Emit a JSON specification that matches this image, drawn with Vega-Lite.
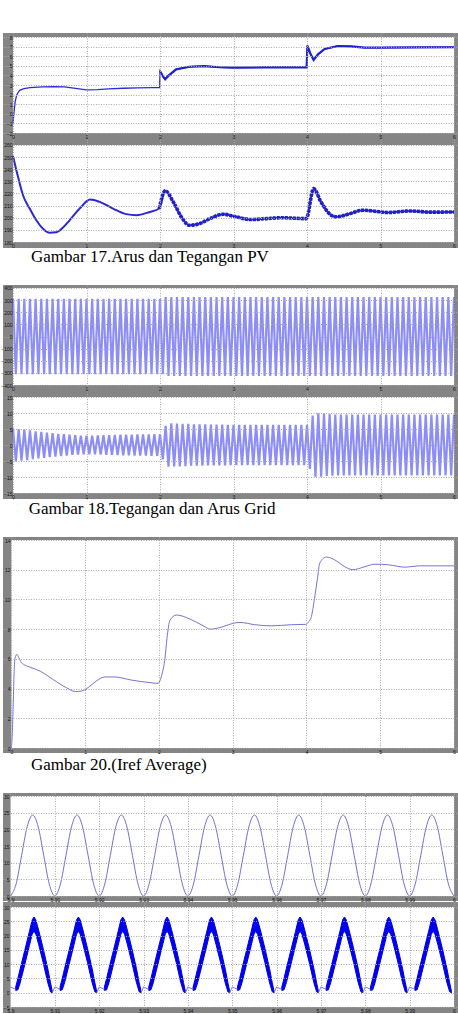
{
"$schema": "https://vega.github.io/schema/vega-lite/v6.json",
"background": "white",
"padding": {"left": 0, "top": 33, "right": 0, "bottom": 0},
"spacing": 20,
"config": {
 "view": {"stroke": null},
 "rect": {"color": "#858585"},
 "axis": {"domain": false, "ticks": false, "grid": true, "gridColor": "#a8a8a8", "gridDash": [1, 1.5], "gridWidth": 1, "gridOpacity": 1, "labelFont": "Liberation Sans", "labelFontSize": 5, "labelColor": "#101010", "labelPadding": 1, "labelFlush": false, "labelOverlap": false, "zindex": 1}
},
"datasets": {
 "one": [{}],
 "pvI": [{"t":0,"y":-1.0},{"t":0.015,"y":0.3},{"t":0.03,"y":1.3},{"t":0.05,"y":1.96},{"t":0.09,"y":2.45},{"t":0.15,"y":2.62},{"t":0.23,"y":2.72},{"t":0.4,"y":2.8},{"t":0.55,"y":2.83},{"t":0.7,"y":2.8},{"t":0.85,"y":2.65},{"t":1.0,"y":2.5},{"t":1.15,"y":2.52},{"t":1.3,"y":2.6},{"t":1.5,"y":2.66},{"t":1.7,"y":2.7},{"t":1.9,"y":2.72},{"t":1.995,"y":2.72},{"t":2.0,"y":4.46},{"t":2.04,"y":3.9},{"t":2.07,"y":3.6},{"t":2.12,"y":4.0},{"t":2.22,"y":4.63},{"t":2.4,"y":4.9},{"t":2.6,"y":4.96},{"t":2.81,"y":4.85},{"t":3.0,"y":4.81},{"t":3.4,"y":4.83},{"t":3.7,"y":4.83},{"t":3.995,"y":4.83},{"t":4.005,"y":7.1},{"t":4.05,"y":6.2},{"t":4.09,"y":5.6},{"t":4.15,"y":6.2},{"t":4.24,"y":6.75},{"t":4.42,"y":7.06},{"t":4.6,"y":7.02},{"t":4.78,"y":6.9},{"t":5.0,"y":6.9},{"t":5.5,"y":6.92},{"t":6.0,"y":6.93}],
 "pvV": [{"t":0,"y":251},{"t":0.068,"y":233.8},{"t":0.136,"y":218.6},{"t":0.227,"y":207.6},{"t":0.317,"y":197.9},{"t":0.408,"y":191},{"t":0.499,"y":187.6},{"t":0.59,"y":188},{"t":0.68,"y":191.9},{"t":0.77,"y":197.9},{"t":0.907,"y":207.6},{"t":1.05,"y":215},{"t":1.18,"y":213.1},{"t":1.36,"y":207.6},{"t":1.54,"y":203},{"t":1.68,"y":202.1},{"t":1.86,"y":204.8},{"t":1.99,"y":207.6},{"t":2.07,"y":222.2},{"t":2.18,"y":213.1},{"t":2.29,"y":200.7},{"t":2.4,"y":193.8},{"t":2.54,"y":195.2},{"t":2.68,"y":199.3},{"t":2.86,"y":202.9},{"t":3.0,"y":201.3},{"t":3.24,"y":198.5},{"t":3.45,"y":199.3},{"t":3.65,"y":200},{"t":3.99,"y":199.3},{"t":4.09,"y":224},{"t":4.19,"y":213},{"t":4.33,"y":202},{"t":4.4,"y":200.7},{"t":4.56,"y":202.9},{"t":4.76,"y":206.2},{"t":4.92,"y":205.4},{"t":5.1,"y":204.3},{"t":5.4,"y":205.6},{"t":5.68,"y":204.6},{"t":6.0,"y":204.8}],
 "grid": [
{"t":0,"v":310,"i":5.2},{"t":0.0385,"v":-310,"i":-5.1},{"t":0.0769,"v":310,"i":5.0},{"t":0.1154,"v":-310,"i":-4.9},{"t":0.1538,"v":310,"i":4.8},{"t":0.1923,"v":-310,"i":-4.7},{"t":0.2308,"v":310,"i":4.6},{"t":0.2692,"v":-310,"i":-4.4},{"t":0.3077,"v":310,"i":4.3},{"t":0.3462,"v":-310,"i":-4.2},{"t":0.3846,"v":310,"i":4.1},{"t":0.4231,"v":-310,"i":-4.0},{"t":0.4615,"v":310,"i":3.9},{"t":0.5,"v":-310,"i":-3.8},{"t":0.5385,"v":310,"i":3.7},{"t":0.5769,"v":-310,"i":-3.6},{"t":0.6154,"v":310,"i":3.5},{"t":0.6538,"v":-310,"i":-3.45},{"t":0.6923,"v":310,"i":3.4},{"t":0.7308,"v":-310,"i":-3.3},{"t":0.7692,"v":310,"i":3.2},{"t":0.8077,"v":-310,"i":-3.1},{"t":0.8462,"v":310,"i":3.05},{"t":0.8846,"v":-310,"i":-3.0},{"t":0.9231,"v":310,"i":2.95},{"t":0.9615,"v":-310,"i":-2.9},
{"t":1,"v":310,"i":2.9},{"t":1.0385,"v":-310,"i":-2.9},{"t":1.0769,"v":310,"i":2.95},{"t":1.1154,"v":-310,"i":-2.95},{"t":1.1538,"v":310,"i":3.0},{"t":1.1923,"v":-310,"i":-3.0},{"t":1.2308,"v":310,"i":3.05},{"t":1.2692,"v":-310,"i":-3.05},{"t":1.3077,"v":310,"i":3.1},{"t":1.3462,"v":-310,"i":-3.1},{"t":1.3846,"v":310,"i":3.15},{"t":1.4231,"v":-310,"i":-3.15},{"t":1.4615,"v":310,"i":3.2},{"t":1.5,"v":-310,"i":-3.2},{"t":1.5385,"v":310,"i":3.2},{"t":1.5769,"v":-310,"i":-3.25},{"t":1.6154,"v":310,"i":3.25},{"t":1.6538,"v":-310,"i":-3.3},{"t":1.6923,"v":310,"i":3.3},{"t":1.7308,"v":-310,"i":-3.3},{"t":1.7692,"v":310,"i":3.35},{"t":1.8077,"v":-310,"i":-3.35},{"t":1.8462,"v":310,"i":3.35},{"t":1.8846,"v":-310,"i":-3.4},{"t":1.9231,"v":310,"i":3.4},{"t":1.9615,"v":-310,"i":-3.4},
{"t":2,"v":310,"i":3.4},{"t":2.0385,"v":-310,"i":-4.5},{"t":2.0769,"v":325,"i":6.0},{"t":2.1154,"v":-325,"i":-6.8},{"t":2.1538,"v":325,"i":6.8},{"t":2.1923,"v":-325,"i":-6.7},{"t":2.2308,"v":325,"i":6.7},{"t":2.2692,"v":-325,"i":-6.7},{"t":2.3077,"v":325,"i":6.6},{"t":2.3462,"v":-325,"i":-6.6},{"t":2.3846,"v":325,"i":6.6},{"t":2.4231,"v":-325,"i":-6.5},{"t":2.4615,"v":325,"i":6.5},{"t":2.5,"v":-325,"i":-6.5},{"t":2.5385,"v":325,"i":6.5},{"t":2.5769,"v":-325,"i":-6.45},{"t":2.6154,"v":325,"i":6.45},{"t":2.6538,"v":-325,"i":-6.4},{"t":2.6923,"v":325,"i":6.4},{"t":2.7308,"v":-325,"i":-6.4},{"t":2.7692,"v":325,"i":6.4},{"t":2.8077,"v":-325,"i":-6.35},{"t":2.8462,"v":325,"i":6.35},{"t":2.8846,"v":-325,"i":-6.35},{"t":2.9231,"v":325,"i":6.3},{"t":2.9615,"v":-325,"i":-6.3},
{"t":3,"v":325,"i":6.3},{"t":3.0385,"v":-325,"i":-6.3},{"t":3.0769,"v":325,"i":6.3},{"t":3.1154,"v":-325,"i":-6.3},{"t":3.1538,"v":325,"i":6.3},{"t":3.1923,"v":-325,"i":-6.3},{"t":3.2308,"v":325,"i":6.3},{"t":3.2692,"v":-325,"i":-6.3},{"t":3.3077,"v":325,"i":6.3},{"t":3.3462,"v":-325,"i":-6.3},{"t":3.3846,"v":325,"i":6.3},{"t":3.4231,"v":-325,"i":-6.3},{"t":3.4615,"v":325,"i":6.3},{"t":3.5,"v":-325,"i":-6.3},{"t":3.5385,"v":325,"i":6.3},{"t":3.5769,"v":-325,"i":-6.3},{"t":3.6154,"v":325,"i":6.3},{"t":3.6538,"v":-325,"i":-6.3},{"t":3.6923,"v":325,"i":6.3},{"t":3.7308,"v":-325,"i":-6.3},{"t":3.7692,"v":325,"i":6.3},{"t":3.8077,"v":-325,"i":-6.3},{"t":3.8462,"v":325,"i":6.3},{"t":3.8846,"v":-325,"i":-6.3},{"t":3.9231,"v":325,"i":6.3},{"t":3.9615,"v":-325,"i":-6.3},
{"t":4,"v":325,"i":6.3},{"t":4.0385,"v":-325,"i":-7.5},{"t":4.0769,"v":325,"i":9.2},{"t":4.1154,"v":-325,"i":-10.0},{"t":4.1538,"v":325,"i":10.0},{"t":4.1923,"v":-325,"i":-9.9},{"t":4.2308,"v":325,"i":9.8},{"t":4.2692,"v":-325,"i":-9.7},{"t":4.3077,"v":325,"i":9.7},{"t":4.3462,"v":-325,"i":-9.6},{"t":4.3846,"v":325,"i":9.5},{"t":4.4231,"v":-325,"i":-9.5},{"t":4.4615,"v":325,"i":9.5},{"t":4.5,"v":-325,"i":-9.5},{"t":4.5385,"v":325,"i":9.5},{"t":4.5769,"v":-325,"i":-9.5},{"t":4.6154,"v":325,"i":9.5},{"t":4.6538,"v":-325,"i":-9.5},{"t":4.6923,"v":325,"i":9.5},{"t":4.7308,"v":-325,"i":-9.5},{"t":4.7692,"v":325,"i":9.5},{"t":4.8077,"v":-325,"i":-9.5},{"t":4.8462,"v":325,"i":9.5},{"t":4.8846,"v":-325,"i":-9.5},{"t":4.9231,"v":325,"i":9.5},{"t":4.9615,"v":-325,"i":-9.5},
{"t":5,"v":325,"i":9.5},{"t":5.0385,"v":-325,"i":-9.5},{"t":5.0769,"v":325,"i":9.5},{"t":5.1154,"v":-325,"i":-9.5},{"t":5.1538,"v":325,"i":9.5},{"t":5.1923,"v":-325,"i":-9.5},{"t":5.2308,"v":325,"i":9.5},{"t":5.2692,"v":-325,"i":-9.5},{"t":5.3077,"v":325,"i":9.5},{"t":5.3462,"v":-325,"i":-9.5},{"t":5.3846,"v":325,"i":9.5},{"t":5.4231,"v":-325,"i":-9.5},{"t":5.4615,"v":325,"i":9.5},{"t":5.5,"v":-325,"i":-9.5},{"t":5.5385,"v":325,"i":9.5},{"t":5.5769,"v":-325,"i":-9.5},{"t":5.6154,"v":325,"i":9.5},{"t":5.6538,"v":-325,"i":-9.5},{"t":5.6923,"v":325,"i":9.5},{"t":5.7308,"v":-325,"i":-9.5},{"t":5.7692,"v":325,"i":9.5},{"t":5.8077,"v":-325,"i":-9.5},{"t":5.8462,"v":325,"i":9.5},{"t":5.8846,"v":-325,"i":-9.5},{"t":5.9231,"v":325,"i":9.5},{"t":5.9615,"v":-325,"i":-9.5},
{"t":6,"v":325,"i":9.5}],
 "iref": [{"t":0,"y":0},{"t":0.012,"y":0.8},{"t":0.023,"y":2.5},{"t":0.035,"y":4.6},{"t":0.045,"y":5.8},{"t":0.06,"y":6.2},{"t":0.076,"y":6.3},{"t":0.1,"y":6.1},{"t":0.13,"y":5.8},{"t":0.17,"y":5.62},{"t":0.25,"y":5.45},{"t":0.4,"y":5.15},{"t":0.57,"y":4.6},{"t":0.75,"y":4.05},{"t":0.87,"y":3.8},{"t":0.95,"y":3.83},{"t":1.05,"y":4.1},{"t":1.15,"y":4.5},{"t":1.27,"y":4.78},{"t":1.4,"y":4.78},{"t":1.63,"y":4.57},{"t":1.88,"y":4.4},{"t":1.99,"y":4.35},{"t":2.02,"y":4.6},{"t":2.05,"y":5.13},{"t":2.08,"y":5.92},{"t":2.11,"y":7.38},{"t":2.15,"y":8.6},{"t":2.24,"y":8.95},{"t":2.42,"y":8.68},{"t":2.6,"y":8.23},{"t":2.7,"y":8.0},{"t":2.87,"y":8.17},{"t":3.01,"y":8.4},{"t":3.1,"y":8.45},{"t":3.3,"y":8.3},{"t":3.52,"y":8.22},{"t":3.8,"y":8.3},{"t":3.99,"y":8.32},{"t":4.03,"y":8.5},{"t":4.067,"y":8.84},{"t":4.11,"y":10.08},{"t":4.15,"y":11.43},{"t":4.18,"y":12.44},{"t":4.27,"y":12.85},{"t":4.38,"y":12.67},{"t":4.52,"y":12.2},{"t":4.63,"y":12.0},{"t":4.79,"y":12.2},{"t":4.93,"y":12.37},{"t":5.11,"y":12.33},{"t":5.34,"y":12.17},{"t":5.52,"y":12.26},{"t":6.0,"y":12.26}],
 "sine": [
{"t":5.9,"y":0},{"t":5.90125,"y":3.56},{"t":5.9025,"y":12.15},{"t":5.90375,"y":20.74},{"t":5.905,"y":24.3},{"t":5.90625,"y":20.74},{"t":5.9075,"y":12.15},{"t":5.90875,"y":3.56},
{"t":5.91,"y":0},{"t":5.91125,"y":3.56},{"t":5.9125,"y":12.15},{"t":5.91375,"y":20.74},{"t":5.915,"y":24.3},{"t":5.91625,"y":20.74},{"t":5.9175,"y":12.15},{"t":5.91875,"y":3.56},
{"t":5.92,"y":0},{"t":5.92125,"y":3.56},{"t":5.9225,"y":12.15},{"t":5.92375,"y":20.74},{"t":5.925,"y":24.3},{"t":5.92625,"y":20.74},{"t":5.9275,"y":12.15},{"t":5.92875,"y":3.56},
{"t":5.93,"y":0},{"t":5.93125,"y":3.56},{"t":5.9325,"y":12.15},{"t":5.93375,"y":20.74},{"t":5.935,"y":24.3},{"t":5.93625,"y":20.74},{"t":5.9375,"y":12.15},{"t":5.93875,"y":3.56},
{"t":5.94,"y":0},{"t":5.94125,"y":3.56},{"t":5.9425,"y":12.15},{"t":5.94375,"y":20.74},{"t":5.945,"y":24.3},{"t":5.94625,"y":20.74},{"t":5.9475,"y":12.15},{"t":5.94875,"y":3.56},
{"t":5.95,"y":0},{"t":5.95125,"y":3.56},{"t":5.9525,"y":12.15},{"t":5.95375,"y":20.74},{"t":5.955,"y":24.3},{"t":5.95625,"y":20.74},{"t":5.9575,"y":12.15},{"t":5.95875,"y":3.56},
{"t":5.96,"y":0},{"t":5.96125,"y":3.56},{"t":5.9625,"y":12.15},{"t":5.96375,"y":20.74},{"t":5.965,"y":24.3},{"t":5.96625,"y":20.74},{"t":5.9675,"y":12.15},{"t":5.96875,"y":3.56},
{"t":5.97,"y":0},{"t":5.97125,"y":3.56},{"t":5.9725,"y":12.15},{"t":5.97375,"y":20.74},{"t":5.975,"y":24.3},{"t":5.97625,"y":20.74},{"t":5.9775,"y":12.15},{"t":5.97875,"y":3.56},
{"t":5.98,"y":0},{"t":5.98125,"y":3.56},{"t":5.9825,"y":12.15},{"t":5.98375,"y":20.74},{"t":5.985,"y":24.3},{"t":5.98625,"y":20.74},{"t":5.9875,"y":12.15},{"t":5.98875,"y":3.56},
{"t":5.99,"y":0},{"t":5.99125,"y":3.56},{"t":5.9925,"y":12.15},{"t":5.99375,"y":20.74},{"t":5.995,"y":24.3},{"t":5.99625,"y":20.74},{"t":5.9975,"y":12.15},{"t":5.99875,"y":3.56},
{"t":6.0,"y":0}],
 "band": [
{"t":5.90117,"lo":0.8,"hi":2,"c":0},{"t":5.90167,"lo":1,"hi":5,"c":0},{"t":5.9022,"lo":3.5,"hi":8.5,"c":0},{"t":5.90324,"lo":10,"hi":15,"c":0},{"t":5.90427,"lo":16.5,"hi":21.5,"c":0},{"t":5.90489,"lo":20.5,"hi":25.5,"c":0},{"t":5.9053,"lo":21.5,"hi":26.5,"c":0},{"t":5.90571,"lo":20.5,"hi":25.5,"c":0},{"t":5.90633,"lo":17,"hi":22,"c":0},{"t":5.90737,"lo":10.5,"hi":15.5,"c":0},{"t":5.9084,"lo":3.5,"hi":8.5,"c":0},{"t":5.90902,"lo":0.3,"hi":3.5,"c":0},{"t":5.90943,"lo":0,"hi":0.5,"c":0},
{"t":5.91117,"lo":0.8,"hi":2,"c":1},{"t":5.91167,"lo":1,"hi":5,"c":1},{"t":5.9122,"lo":3.5,"hi":8.5,"c":1},{"t":5.91324,"lo":10,"hi":15,"c":1},{"t":5.91427,"lo":16.5,"hi":21.5,"c":1},{"t":5.91489,"lo":20.5,"hi":25.5,"c":1},{"t":5.9153,"lo":21.5,"hi":26.5,"c":1},{"t":5.91571,"lo":20.5,"hi":25.5,"c":1},{"t":5.91633,"lo":17,"hi":22,"c":1},{"t":5.91737,"lo":10.5,"hi":15.5,"c":1},{"t":5.9184,"lo":3.5,"hi":8.5,"c":1},{"t":5.91902,"lo":0.3,"hi":3.5,"c":1},{"t":5.91943,"lo":0,"hi":0.5,"c":1},
{"t":5.92117,"lo":0.8,"hi":2,"c":2},{"t":5.92167,"lo":1,"hi":5,"c":2},{"t":5.9222,"lo":3.5,"hi":8.5,"c":2},{"t":5.92324,"lo":10,"hi":15,"c":2},{"t":5.92427,"lo":16.5,"hi":21.5,"c":2},{"t":5.92489,"lo":20.5,"hi":25.5,"c":2},{"t":5.9253,"lo":21.5,"hi":26.5,"c":2},{"t":5.92571,"lo":20.5,"hi":25.5,"c":2},{"t":5.92633,"lo":17,"hi":22,"c":2},{"t":5.92737,"lo":10.5,"hi":15.5,"c":2},{"t":5.9284,"lo":3.5,"hi":8.5,"c":2},{"t":5.92902,"lo":0.3,"hi":3.5,"c":2},{"t":5.92943,"lo":0,"hi":0.5,"c":2},
{"t":5.93117,"lo":0.8,"hi":2,"c":3},{"t":5.93167,"lo":1,"hi":5,"c":3},{"t":5.9322,"lo":3.5,"hi":8.5,"c":3},{"t":5.93324,"lo":10,"hi":15,"c":3},{"t":5.93427,"lo":16.5,"hi":21.5,"c":3},{"t":5.93489,"lo":20.5,"hi":25.5,"c":3},{"t":5.9353,"lo":21.5,"hi":26.5,"c":3},{"t":5.93571,"lo":20.5,"hi":25.5,"c":3},{"t":5.93633,"lo":17,"hi":22,"c":3},{"t":5.93737,"lo":10.5,"hi":15.5,"c":3},{"t":5.9384,"lo":3.5,"hi":8.5,"c":3},{"t":5.93902,"lo":0.3,"hi":3.5,"c":3},{"t":5.93943,"lo":0,"hi":0.5,"c":3},
{"t":5.94117,"lo":0.8,"hi":2,"c":4},{"t":5.94167,"lo":1,"hi":5,"c":4},{"t":5.9422,"lo":3.5,"hi":8.5,"c":4},{"t":5.94324,"lo":10,"hi":15,"c":4},{"t":5.94427,"lo":16.5,"hi":21.5,"c":4},{"t":5.94489,"lo":20.5,"hi":25.5,"c":4},{"t":5.9453,"lo":21.5,"hi":26.5,"c":4},{"t":5.94571,"lo":20.5,"hi":25.5,"c":4},{"t":5.94633,"lo":17,"hi":22,"c":4},{"t":5.94737,"lo":10.5,"hi":15.5,"c":4},{"t":5.9484,"lo":3.5,"hi":8.5,"c":4},{"t":5.94902,"lo":0.3,"hi":3.5,"c":4},{"t":5.94943,"lo":0,"hi":0.5,"c":4},
{"t":5.95117,"lo":0.8,"hi":2,"c":5},{"t":5.95167,"lo":1,"hi":5,"c":5},{"t":5.9522,"lo":3.5,"hi":8.5,"c":5},{"t":5.95324,"lo":10,"hi":15,"c":5},{"t":5.95427,"lo":16.5,"hi":21.5,"c":5},{"t":5.95489,"lo":20.5,"hi":25.5,"c":5},{"t":5.9553,"lo":21.5,"hi":26.5,"c":5},{"t":5.95571,"lo":20.5,"hi":25.5,"c":5},{"t":5.95633,"lo":17,"hi":22,"c":5},{"t":5.95737,"lo":10.5,"hi":15.5,"c":5},{"t":5.9584,"lo":3.5,"hi":8.5,"c":5},{"t":5.95902,"lo":0.3,"hi":3.5,"c":5},{"t":5.95943,"lo":0,"hi":0.5,"c":5},
{"t":5.96117,"lo":0.8,"hi":2,"c":6},{"t":5.96167,"lo":1,"hi":5,"c":6},{"t":5.9622,"lo":3.5,"hi":8.5,"c":6},{"t":5.96324,"lo":10,"hi":15,"c":6},{"t":5.96427,"lo":16.5,"hi":21.5,"c":6},{"t":5.96489,"lo":20.5,"hi":25.5,"c":6},{"t":5.9653,"lo":21.5,"hi":26.5,"c":6},{"t":5.96571,"lo":20.5,"hi":25.5,"c":6},{"t":5.96633,"lo":17,"hi":22,"c":6},{"t":5.96737,"lo":10.5,"hi":15.5,"c":6},{"t":5.9684,"lo":3.5,"hi":8.5,"c":6},{"t":5.96902,"lo":0.3,"hi":3.5,"c":6},{"t":5.96943,"lo":0,"hi":0.5,"c":6},
{"t":5.97117,"lo":0.8,"hi":2,"c":7},{"t":5.97167,"lo":1,"hi":5,"c":7},{"t":5.9722,"lo":3.5,"hi":8.5,"c":7},{"t":5.97324,"lo":10,"hi":15,"c":7},{"t":5.97427,"lo":16.5,"hi":21.5,"c":7},{"t":5.97489,"lo":20.5,"hi":25.5,"c":7},{"t":5.9753,"lo":21.5,"hi":26.5,"c":7},{"t":5.97571,"lo":20.5,"hi":25.5,"c":7},{"t":5.97633,"lo":17,"hi":22,"c":7},{"t":5.97737,"lo":10.5,"hi":15.5,"c":7},{"t":5.9784,"lo":3.5,"hi":8.5,"c":7},{"t":5.97902,"lo":0.3,"hi":3.5,"c":7},{"t":5.97943,"lo":0,"hi":0.5,"c":7},
{"t":5.98117,"lo":0.8,"hi":2,"c":8},{"t":5.98167,"lo":1,"hi":5,"c":8},{"t":5.9822,"lo":3.5,"hi":8.5,"c":8},{"t":5.98324,"lo":10,"hi":15,"c":8},{"t":5.98427,"lo":16.5,"hi":21.5,"c":8},{"t":5.98489,"lo":20.5,"hi":25.5,"c":8},{"t":5.9853,"lo":21.5,"hi":26.5,"c":8},{"t":5.98571,"lo":20.5,"hi":25.5,"c":8},{"t":5.98633,"lo":17,"hi":22,"c":8},{"t":5.98737,"lo":10.5,"hi":15.5,"c":8},{"t":5.9884,"lo":3.5,"hi":8.5,"c":8},{"t":5.98902,"lo":0.3,"hi":3.5,"c":8},{"t":5.98943,"lo":0,"hi":0.5,"c":8},
{"t":5.99117,"lo":0.8,"hi":2,"c":9},{"t":5.99167,"lo":1,"hi":5,"c":9},{"t":5.9922,"lo":3.5,"hi":8.5,"c":9},{"t":5.99324,"lo":10,"hi":15,"c":9},{"t":5.99427,"lo":16.5,"hi":21.5,"c":9},{"t":5.99489,"lo":20.5,"hi":25.5,"c":9},{"t":5.9953,"lo":21.5,"hi":26.5,"c":9},{"t":5.99571,"lo":20.5,"hi":25.5,"c":9},{"t":5.99633,"lo":17,"hi":22,"c":9},{"t":5.99737,"lo":10.5,"hi":15.5,"c":9},{"t":5.9984,"lo":3.5,"hi":8.5,"c":9},{"t":5.99902,"lo":0.3,"hi":3.5,"c":9},{"t":5.99943,"lo":0,"hi":0.5,"c":9}],
 "zig": [
{"t":5.9,"y":2,"g":0},{"t":5.90117,"y":1.2,"g":0},
{"t":5.90943,"y":0,"g":1},{"t":5.91,"y":2,"g":1},{"t":5.91117,"y":1.2,"g":1},
{"t":5.91943,"y":0,"g":2},{"t":5.92,"y":2,"g":2},{"t":5.92117,"y":1.2,"g":2},
{"t":5.92943,"y":0,"g":3},{"t":5.93,"y":2,"g":3},{"t":5.93117,"y":1.2,"g":3},
{"t":5.93943,"y":0,"g":4},{"t":5.94,"y":2,"g":4},{"t":5.94117,"y":1.2,"g":4},
{"t":5.94943,"y":0,"g":5},{"t":5.95,"y":2,"g":5},{"t":5.95117,"y":1.2,"g":5},
{"t":5.95943,"y":0,"g":6},{"t":5.96,"y":2,"g":6},{"t":5.96117,"y":1.2,"g":6},
{"t":5.96943,"y":0,"g":7},{"t":5.97,"y":2,"g":7},{"t":5.97117,"y":1.2,"g":7},
{"t":5.97943,"y":0,"g":8},{"t":5.98,"y":2,"g":8},{"t":5.98117,"y":1.2,"g":8},
{"t":5.98943,"y":0,"g":9},{"t":5.99,"y":2,"g":9},{"t":5.99117,"y":1.2,"g":9}]
},
"vconcat": [
 {
  "spacing": 0,
  "title": {"text": "Gambar 17.Arus dan Tegangan PV", "orient": "bottom", "anchor": "start", "dx": 28, "offset": 1, "font": "Liberation Serif", "fontSize": 17, "fontWeight": "normal", "color": "black"},
  "vconcat": [
   {
    "width": 455, "height": 106,
    "view": {"fill": "white", "stroke": null},
    "encoding": {
     "x": {"type": "quantitative", "scale": {"domain": [-0.1361, 6.0544], "nice": false, "zero": false}, "axis": {"values": [0,1,2,3,4,5,6], "format": ".6~g", "offset": -6, "title": null, "grid": true, "labelOverlap": false, "zindex": 1}},
     "y": {"type": "quantitative", "scale": {"domain": [-2.625, 8.4167], "nice": false, "zero": false}, "axis": {"values": [-2,-1,0,1,2,3,4,5,6,7,8], "format": ".6~g", "offset": -10, "title": null, "grid": true, "labelOverlap": false, "zindex": 1}}
    },
    "layer": [
     {"data": {"name": "one"}, "mark": "rect", "encoding": {"x": {"datum": -0.1361}, "x2": {"datum": 0}, "y": {"datum": -2.625}, "y2": {"datum": 8.4167}}},
     {"data": {"name": "one"}, "mark": "rect", "encoding": {"x": {"datum": 6}, "x2": {"datum": 6.0544}, "y": {"datum": -2.625}, "y2": {"datum": 8.4167}}},
     {"data": {"name": "one"}, "mark": "rect", "encoding": {"x": {"datum": -0.1361}, "x2": {"datum": 6.0544}, "y": {"datum": 8}, "y2": {"datum": 8.4167}}},
     {"data": {"name": "one"}, "mark": "rect", "encoding": {"x": {"datum": -0.1361}, "x2": {"datum": 6.0544}, "y": {"datum": -2.625}, "y2": {"datum": -2}}},
     {"data": {"name": "pvI"}, "mark": {"type": "line", "color": "#2b2bd6", "strokeWidth": 1.3},
      "encoding": {"x": {"field": "t"}, "y": {"field": "y"}}},
     {"data": {"name": "pvI"}, "transform": [{"filter": "datum.t >= 2"}], "mark": {"type": "line", "color": "#2020d0", "strokeWidth": 2.2},
      "encoding": {"x": {"field": "t"}, "y": {"field": "y"}}}
    ]
   },
   {
    "width": 455, "height": 109,
    "view": {"fill": "white", "stroke": null},
    "encoding": {
     "x": {"type": "quantitative", "scale": {"domain": [-0.1361, 6.0544], "nice": false, "zero": false}, "axis": {"values": [0,1,2,3,4,5,6], "format": ".6~g", "offset": -6, "title": null, "grid": true, "labelOverlap": false, "zindex": 1}},
     "y": {"type": "quantitative", "scale": {"domain": [175.052, 264.948], "nice": false, "zero": false}, "axis": {"values": [180,190,200,210,220,230,240,250,260], "format": ".6~g", "offset": -10, "title": null, "grid": true, "labelOverlap": false, "zindex": 1}}
    },
    "layer": [
     {"data": {"name": "one"}, "mark": "rect", "encoding": {"x": {"datum": -0.1361}, "x2": {"datum": 0}, "y": {"datum": 175.052}, "y2": {"datum": 264.948}}},
     {"data": {"name": "one"}, "mark": "rect", "encoding": {"x": {"datum": 6}, "x2": {"datum": 6.0544}, "y": {"datum": 175.052}, "y2": {"datum": 264.948}}},
     {"data": {"name": "one"}, "mark": "rect", "encoding": {"x": {"datum": -0.1361}, "x2": {"datum": 6.0544}, "y": {"datum": 260}, "y2": {"datum": 264.948}}},
     {"data": {"name": "one"}, "mark": "rect", "encoding": {"x": {"datum": -0.1361}, "x2": {"datum": 6.0544}, "y": {"datum": 175.052}, "y2": {"datum": 180}}},
     {"data": {"name": "pvV"}, "mark": {"type": "line", "color": "#2a2ad0", "strokeWidth": 2, "interpolate": "monotone"},
      "encoding": {"x": {"field": "t"}, "y": {"field": "y"}}},
     {"data": {"name": "pvV"}, "transform": [{"filter": "datum.t >= 1.99"}], "mark": {"type": "line", "color": "#2020c8", "strokeWidth": 3.6, "interpolate": "monotone", "strokeDash": [3, 1]},
      "encoding": {"x": {"field": "t"}, "y": {"field": "y"}}}
    ]
   }
  ]
 },
 {
  "spacing": 0,
  "title": {"text": "Gambar 18.Tegangan dan Arus Grid", "orient": "bottom", "anchor": "start", "dx": 28, "offset": 2, "font": "Liberation Serif", "fontSize": 17, "fontWeight": "normal", "color": "black"},
  "vconcat": [
   {
    "width": 455, "height": 106,
    "view": {"fill": "white", "stroke": null},
    "encoding": {
     "x": {"type": "quantitative", "scale": {"domain": [-0.1361, 6.0544], "nice": false, "zero": false}, "axis": {"values": [0,1,2,3,4,5,6], "format": ".6~g", "offset": -6, "title": null, "grid": true, "labelOverlap": false, "zindex": 1}},
     "y": {"type": "quantitative", "scale": {"domain": [-449.48, 424.74], "nice": false, "zero": false}, "axis": {"values": [-400,-300,-200,-100,0,100,200,300,400], "format": ".6~g", "offset": -10, "title": null, "grid": true, "labelOverlap": false, "zindex": 1}}
    },
    "layer": [
     {"data": {"name": "one"}, "mark": "rect", "encoding": {"x": {"datum": -0.1361}, "x2": {"datum": 0}, "y": {"datum": -449.48}, "y2": {"datum": 424.74}}},
     {"data": {"name": "one"}, "mark": "rect", "encoding": {"x": {"datum": 6}, "x2": {"datum": 6.0544}, "y": {"datum": -449.48}, "y2": {"datum": 424.74}}},
     {"data": {"name": "one"}, "mark": "rect", "encoding": {"x": {"datum": -0.1361}, "x2": {"datum": 6.0544}, "y": {"datum": 400}, "y2": {"datum": 424.74}}},
     {"data": {"name": "one"}, "mark": "rect", "encoding": {"x": {"datum": -0.1361}, "x2": {"datum": 6.0544}, "y": {"datum": -449.48}, "y2": {"datum": -400}}},
     {"data": {"name": "grid"}, "mark": {"type": "line", "color": "#3030f5", "strokeWidth": 2.2, "opacity": 0.55},
      "encoding": {"x": {"field": "t"}, "y": {"field": "v"}}}
    ]
   },
   {
    "width": 455, "height": 108,
    "view": {"fill": "white", "stroke": null},
    "encoding": {
     "x": {"type": "quantitative", "scale": {"domain": [-0.1361, 6.0544], "nice": false, "zero": false}, "axis": {"values": [0,1,2,3,4,5,6], "format": ".6~g", "offset": -6, "title": null, "grid": true, "labelOverlap": false, "zindex": 1}},
     "y": {"type": "quantitative", "scale": {"domain": [-16.875, 16.875], "nice": false, "zero": false}, "axis": {"values": [-15,-10,-5,0,5,10,15], "format": ".6~g", "offset": -10, "title": null, "grid": true, "labelOverlap": false, "zindex": 1}}
    },
    "layer": [
     {"data": {"name": "one"}, "mark": "rect", "encoding": {"x": {"datum": -0.1361}, "x2": {"datum": 0}, "y": {"datum": -16.875}, "y2": {"datum": 16.875}}},
     {"data": {"name": "one"}, "mark": "rect", "encoding": {"x": {"datum": 6}, "x2": {"datum": 6.0544}, "y": {"datum": -16.875}, "y2": {"datum": 16.875}}},
     {"data": {"name": "one"}, "mark": "rect", "encoding": {"x": {"datum": -0.1361}, "x2": {"datum": 6.0544}, "y": {"datum": 15}, "y2": {"datum": 16.875}}},
     {"data": {"name": "one"}, "mark": "rect", "encoding": {"x": {"datum": -0.1361}, "x2": {"datum": 6.0544}, "y": {"datum": -16.875}, "y2": {"datum": -15}}},
     {"data": {"name": "grid"}, "mark": {"type": "line", "color": "#3030f5", "strokeWidth": 2.2, "opacity": 0.55},
      "encoding": {"x": {"field": "t"}, "y": {"field": "i"}}}
    ]
   }
  ]
 },
 {
  "spacing": 0,
  "title": {"text": "Gambar 20.(Iref Average)", "orient": "bottom", "anchor": "start", "dx": 28, "offset": 3, "font": "Liberation Serif", "fontSize": 17, "fontWeight": "normal", "color": "black"},
  "vconcat": [
   {
    "width": 455, "height": 216,
    "view": {"fill": "white", "stroke": null},
    "encoding": {
     "x": {"type": "quantitative", "scale": {"domain": [-0.1125, 6.0542], "nice": false, "zero": false}, "axis": {"values": [0,1,2,3,4,5,6], "format": ".6~g", "offset": -5, "title": null, "grid": true, "labelOverlap": false, "zindex": 1}},
     "y": {"type": "quantitative", "scale": {"domain": [-0.3365, 14.202], "nice": false, "zero": false}, "axis": {"values": [0,2,4,6,8,10,12,14], "format": ".6~g", "offset": -8, "title": null, "grid": true, "labelOverlap": false, "zindex": 1}}
    },
    "layer": [
     {"data": {"name": "one"}, "mark": "rect", "encoding": {"x": {"datum": -0.1125}, "x2": {"datum": 0}, "y": {"datum": -0.3365}, "y2": {"datum": 14.202}}},
     {"data": {"name": "one"}, "mark": "rect", "encoding": {"x": {"datum": 6}, "x2": {"datum": 6.0542}, "y": {"datum": -0.3365}, "y2": {"datum": 14.202}}},
     {"data": {"name": "one"}, "mark": "rect", "encoding": {"x": {"datum": -0.1125}, "x2": {"datum": 6.0542}, "y": {"datum": 14}, "y2": {"datum": 14.202}}},
     {"data": {"name": "one"}, "mark": "rect", "encoding": {"x": {"datum": -0.1125}, "x2": {"datum": 6.0542}, "y": {"datum": -0.3365}, "y2": {"datum": 0}}},
     {"data": {"name": "iref"}, "mark": {"type": "line", "color": "#7474d6", "strokeWidth": 1, "interpolate": "monotone"},
      "encoding": {"x": {"field": "t"}, "y": {"field": "y"}}}
    ]
   }
  ]
 },
 {
  "spacing": 0,
  "vconcat": [
   {
    "width": 455, "height": 108,
    "view": {"fill": "white", "stroke": null},
    "encoding": {
     "x": {"type": "quantitative", "scale": {"domain": [5.89831, 6.0009], "nice": false, "zero": false}, "axis": {"values": [5.9,5.91,5.92,5.93,5.94,5.95,5.96,5.97,5.98,5.99,6.0], "format": ".6~g", "offset": -5, "title": null, "grid": true, "labelOverlap": false, "zindex": 1}},
     "y": {"type": "quantitative", "scale": {"domain": [-1.5, 30.9], "nice": false, "zero": false}, "axis": {"values": [0,5,10,15,20,25,30], "format": ".6~g", "offset": -7, "title": null, "grid": true, "labelOverlap": false, "zindex": 1}}
    },
    "layer": [
     {"data": {"name": "one"}, "mark": "rect", "encoding": {"x": {"datum": 5.89831}, "x2": {"datum": 5.9}, "y": {"datum": -1.5}, "y2": {"datum": 30.9}}},
     {"data": {"name": "one"}, "mark": "rect", "encoding": {"x": {"datum": 6.0}, "x2": {"datum": 6.0009}, "y": {"datum": -1.5}, "y2": {"datum": 30.9}}},
     {"data": {"name": "one"}, "mark": "rect", "encoding": {"x": {"datum": 5.89831}, "x2": {"datum": 6.0009}, "y": {"datum": 30}, "y2": {"datum": 30.9}}},
     {"data": {"name": "one"}, "mark": "rect", "encoding": {"x": {"datum": 5.89831}, "x2": {"datum": 6.0009}, "y": {"datum": -1.5}, "y2": {"datum": 0}}},
     {"data": {"name": "sine"}, "mark": {"type": "line", "color": "#7070d6", "strokeWidth": 1, "interpolate": "monotone"},
      "encoding": {"x": {"field": "t"}, "y": {"field": "y"}}}
    ]
   },
   {
    "width": 455, "height": 111,
    "view": {"fill": "white", "stroke": null},
    "encoding": {
     "x": {"type": "quantitative", "scale": {"domain": [5.89831, 6.0009], "nice": false, "zero": false}, "axis": {"values": [5.9,5.91,5.92,5.93,5.94,5.95,5.96,5.97,5.98,5.99,6.0], "format": ".6~g", "offset": -6, "title": null, "grid": true, "labelOverlap": false, "zindex": 1}},
     "y": {"type": "quantitative", "scale": {"domain": [-7.1, 31.75], "nice": false, "zero": false}, "axis": {"values": [-5,0,5,10,15,20,25,30], "format": ".6~g", "offset": -7, "title": null, "grid": true, "labelOverlap": false, "zindex": 1}}
    },
    "layer": [
     {"data": {"name": "one"}, "mark": "rect", "encoding": {"x": {"datum": 5.89831}, "x2": {"datum": 5.9}, "y": {"datum": -7.1}, "y2": {"datum": 31.75}}},
     {"data": {"name": "one"}, "mark": "rect", "encoding": {"x": {"datum": 6.0}, "x2": {"datum": 6.0009}, "y": {"datum": -7.1}, "y2": {"datum": 31.75}}},
     {"data": {"name": "one"}, "mark": "rect", "encoding": {"x": {"datum": 5.89831}, "x2": {"datum": 6.0009}, "y": {"datum": 30}, "y2": {"datum": 31.75}}},
     {"data": {"name": "one"}, "mark": "rect", "encoding": {"x": {"datum": 5.89831}, "x2": {"datum": 6.0009}, "y": {"datum": -7.1}, "y2": {"datum": -5}}},
     {"data": {"name": "band"}, "mark": {"type": "area", "color": "#0000ee", "stroke": "#0000ee", "strokeWidth": 1},
      "encoding": {"x": {"field": "t"}, "y": {"field": "lo"}, "y2": {"field": "hi"}, "detail": {"field": "c", "type": "nominal"}}},
     {"data": {"name": "zig"}, "mark": {"type": "line", "color": "#6c6cd4", "strokeWidth": 0.9},
      "encoding": {"x": {"field": "t"}, "y": {"field": "y"}, "detail": {"field": "g", "type": "nominal"}}}
    ]
   }
  ]
 }
]
}
